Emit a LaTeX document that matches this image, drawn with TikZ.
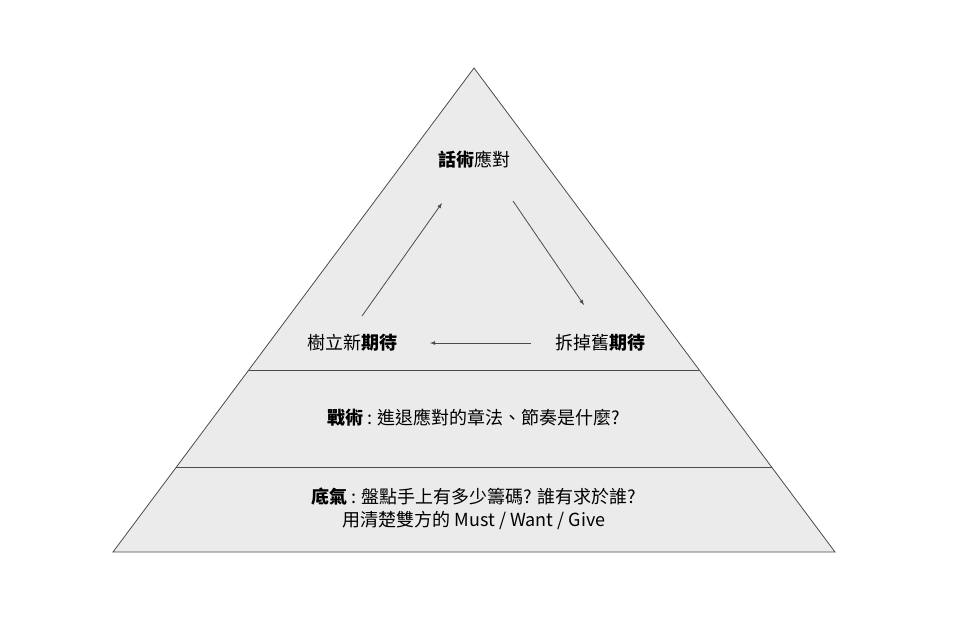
\documentclass[tikz,border=0pt]{standalone}
\usepackage{fontspec}
\setmainfont{Noto Sans CJK TC}
\begin{document}
\begin{tikzpicture}[x=1pt,y=-1pt,
  lbl/.style={font=\fontsize{18}{23}\selectfont,align=center,inner sep=0pt},
  arr/.style={->,>=latex,draw=black!70,line width=0.8pt}]
\useasboundingbox (0,0) rectangle (960,635);
\fill[black!8] (474,68) -- (835,552) -- (113,552) -- cycle;
\draw[black!70,line width=0.8pt] (474,68) -- (835,552) -- (113,552) -- cycle;
\draw[black!70,line width=0.8pt] (248.8,370) -- (699.2,370);
\draw[black!70,line width=0.8pt] (176.4,467) -- (771.6,467);
\node[lbl] (top) at (474,160) {\textbf{話術}應對};
\node[lbl] (new) at (352,343) {樹立新\textbf{期待}};
\node[lbl] (old) at (600,343) {拆掉舊\textbf{期待}};
\node[lbl] (tactic) at (474,418) {\textbf{戰術} : 進退應對的章法、節奏是什麼?};
\node[lbl] (base) at (474,509) {\textbf{底氣} : 盤點手上有多少籌碼? 誰有求於誰?\\用清楚雙方的 Must / Want / Give};
\coordinate (a1) at (362,316); \coordinate (a2) at (442,203);
\coordinate (b1) at (513,201); \coordinate (b2) at (584,305);
\coordinate (c1) at (531,343); \coordinate (c2) at (430,343);
\draw[arr] (a1) -- (a2);
\draw[arr] (b1) -- (b2);
\draw[arr] (c1) -- (c2);
\end{tikzpicture}
\end{document}
